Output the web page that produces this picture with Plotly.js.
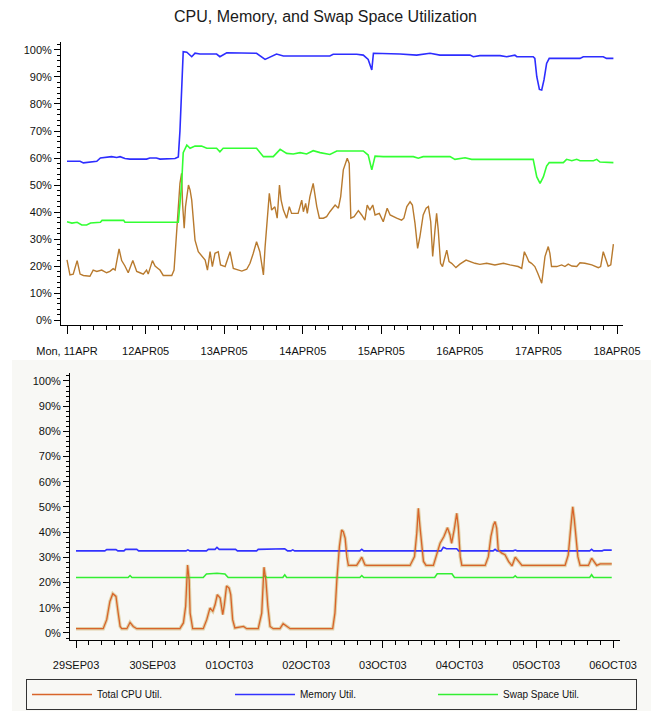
<!DOCTYPE html>
<html><head><meta charset="utf-8">
<script src="https://cdn.plot.ly/plotly-3.0.1.min.js"></script>
<style>html,body{margin:0;padding:0;background:#fff}#chart{width:651px;height:711px}</style>
</head><body><div id="chart"></div>
<script>
// ---------- Top panel (11APR05 - 18APR05), hours since 11APR05 00:00 ----------
const topStart = '2005-04-11';
const topDays = ['2005-04-11','2005-04-12','2005-04-13','2005-04-14','2005-04-15','2005-04-16','2005-04-17','2005-04-18'];
const topDayLabels = ['Mon, 11APR','12APR05','13APR05','14APR05','15APR05','16APR05','17APR05','18APR05'];

const topCpuHours = [0,0.9,1.9,3.1,4.0,5.0,7.0,8.0,9.1,10.6,12.1,13.1,14.1,14.7,15.9,16.7,17.7,18.7,20.1,21.3,22.3,23.3,24.3,24.8,26.1,26.9,27.9,28.4,29.4,32.0,32.7,33.3,33.8,34.5,35.0,35.3,35.8,36.2,37.1,37.6,38.1,39.1,40.1,41.1,42.2,42.9,43.7,44.4,45.2,46.2,46.9,48.3,49.8,50.8,52.0,53.4,54.9,55.9,56.9,57.9,58.9,60.0,60.5,61.0,61.8,62.5,63.5,64.2,64.9,65.4,66.1,67.1,67.9,68.6,70.6,71.7,72.2,72.9,73.4,74.2,75.2,76.3,77.1,78.3,79.3,80.3,81.9,82.9,83.6,84.4,85.6,86.2,86.7,87.7,89.0,90.0,91.0,91.7,92.5,93.4,94.1,95.4,96.6,97.8,98.7,100.7,102.2,102.9,103.8,104.8,105.5,106.3,107.1,107.8,108.8,109.7,110.4,111.1,111.7,112.4,112.9,113.4,114.1,114.7,115.2,116.0,116.7,117.5,118.8,120.0,121.9,123.1,124.6,126.1,128.2,130.7,133.3,135.3,137.8,138.9,139.7,140.4,141.1,141.9,142.9,143.8,144.5,145.0,145.5,146.0,147.0,147.5,148.0,149.6,151.1,152.1,153.1,154.2,155.7,156.7,158.2,160.3,162.3,163.0,163.8,164.6,165.3,166.1,166.9];
const topCpuPct = [22.3,16.7,17,22,17,16.5,16.2,18.5,18,18.5,17.5,18,19,18.5,26.3,22,20,17.5,22,18,17.5,17,18.5,17,22,20,19,18.5,16.5,16.5,18.5,29.6,40.7,50.6,54.3,43,34,42,50,48.1,44.4,29.6,25.3,24,22.2,18.5,25.3,19.8,24.7,25.3,20.4,19.8,25.3,19.1,18.5,18.1,18.8,21,24.7,29,25.3,16.7,27,34.6,46.9,40.7,41.9,37.7,50,44.4,40.7,37.7,42,39.5,39.5,44.4,40.1,43.2,39.5,45.7,50.6,42,37.7,37.7,38.3,40.1,42.6,41.4,45.7,55.6,59.9,58,37.7,38.3,40.5,38.9,37,42.6,40.7,42.6,38.9,39.5,36.4,41.4,38.9,37.7,37,37.7,42,43.8,42.6,35.8,26.5,30.9,38.9,41.4,42,36.4,23.5,33.3,39.5,33.3,21,19.8,22.2,25.9,21.6,21,19.4,20.7,22.2,21.6,21,20.6,21,20.4,21,20.4,19.8,19.1,25.3,23.5,21.6,21,19.8,17.3,14.8,13.6,18.5,23.5,27.2,24.7,19.8,19.8,20.4,19.8,20.7,20,19.8,21.2,21,20.4,19.4,19.8,25.3,22.2,19.9,20.4,28.1];

const topMemHours = [0,4.0,5.0,6.5,9.1,10.2,12.1,13.6,15.2,16.2,17.7,19.2,24.3,25.3,27.3,28.4,33.0,34.0,34.5,35.0,35.5,36.6,38.1,39.1,40.6,45.7,46.7,48.8,57.9,60.5,62.0,64.0,66.1,80.3,81.3,88.5,90.5,92.0,93.1,93.6,101.7,106.8,110.9,113.9,123.1,124.1,126.1,132.3,134.3,136.8,137.4,142.4,142.9,143.5,144.3,145.0,145.7,146.5,147.3,156.7,157.7,163.8,164.8,166.9];
const topMemPct = [58.8,58.8,58.2,58.5,58.8,60.0,60.2,60.5,60.2,60.5,59.8,59.6,59.6,60.0,60.0,59.6,59.8,60.4,70,88,99.4,99.2,97.5,98.8,98.5,98.5,97.5,99,98.8,96.5,97.3,98.5,97.8,97.8,98.4,98.4,98.1,96.5,92.6,98.8,98.5,98.1,98.8,98.1,98.1,97.5,97.9,97.9,97.5,98.1,97.5,97.5,96.9,90.1,85.4,85.2,88.9,95,96.9,96.9,97.5,97.5,96.9,96.9];

const topSwapHours = [0,1.5,3.1,4.5,6.0,7.2,10.2,10.7,17.3,17.7,34.0,35.0,35.5,36.6,37.6,39.1,41.1,42.7,45.7,46.7,47.7,57.9,60.0,63.0,65.1,67.1,69.1,71.2,73.2,75.2,77.3,80.3,82.4,90.5,92.0,93.1,94.1,96.6,105.8,107.3,108.8,117.0,118.5,121.6,123.6,142.4,143.5,144.5,145.5,146.5,147.3,151.6,152.6,154.2,155.7,156.7,160.8,161.8,162.8,166.9];
const topSwapPct = [36.4,35.9,36.2,35.2,35.2,35.9,36.2,36.9,36.9,36.2,36.2,50,62,64.8,63.6,64.4,64.4,63.6,63.6,62.3,63.6,63.6,60.5,60.5,63.2,61.7,61.5,62,61.5,62.7,62,61.3,62.6,62.6,61.1,55.6,60.7,60.5,60.5,59.9,60.5,60.5,59.5,60.1,59.5,59.5,53,50.6,53,57,58.3,58.3,59.5,59,59.5,59,59,59.5,58.5,58.3];

// ---------- Bottom panel (29SEP03 - 06OCT03), hours since 29SEP03 00:00 ----------
const botStart = '2003-09-29';
const botDays = ['2003-09-29','2003-09-30','2003-10-01','2003-10-02','2003-10-03','2003-10-04','2003-10-05','2003-10-06'];
const botDayLabels = ['29SEP03','30SEP03','01OCT03','02OCT03','03OCT03','04OCT03','05OCT03','06OCT03'];

const botCpuHours = [0,8.5,9.6,10.6,11.5,12.5,13.2,13.8,14.3,15.9,16.9,17.9,19.0,32.5,33.6,34.3,34.9,35.4,35.7,36.5,39.8,40.9,41.9,42.8,43.5,44.2,45.1,45.9,46.4,47.1,47.9,48.4,49.0,49.7,52.4,53.4,57.0,58.1,58.8,59.4,60.0,60.7,61.7,63.8,64.8,65.9,67.0,80.3,81.0,81.6,82.4,83.1,83.6,84.2,84.7,85.2,87.8,88.9,89.4,90.4,91.0,104.5,105.9,106.6,107.1,107.6,108.2,108.7,109.5,111.8,112.8,113.9,115.1,116.2,117.0,117.5,118.3,119.1,119.6,120.2,120.7,128.0,129.0,129.8,130.6,131.1,131.6,132.1,133.2,134.2,135.3,136.4,137.4,138.4,139.5,153.0,154.0,154.8,155.4,155.9,156.4,157.0,157.7,160.3,161.3,162.0,162.9,164.0,167.6];
const botCpuPct = [1.7,1.7,5.3,12.5,15.6,14.5,7.9,2.6,1.7,1.7,4.2,2.6,1.7,1.7,4,10.6,27,21,7.9,1.7,1.7,5.3,9.9,8.6,11.2,15.2,13.9,7.3,11.2,18.7,17.8,15.2,5.3,2,2.6,1.7,1.7,7.9,26.1,21,10.6,2.6,1.7,1.7,3.7,2.6,1.7,1.7,7.9,21,34.3,40.9,40.2,37.6,30.3,26.8,26.8,29,30.1,27,26.8,26.8,30.3,39.6,49.5,42.2,34.3,28.4,26.8,26.8,31,35.6,38.3,41.8,38.9,35.6,40.9,47.5,42.2,30.3,26.8,26.8,30.3,38.3,42.9,44.2,41.6,33,31.7,31.1,28.4,26.6,30.1,28.4,26.8,26.8,31,42.2,50.1,44.9,36.9,30.3,26.8,26.8,29.7,28.4,26.8,27.4,27.4];

const botMemHours = [0,9.0,9.6,12.5,13.1,15.0,15.5,19.0,19.6,34.4,35.0,35.6,40.8,41.4,43.5,44.1,44.8,49.9,50.5,56.5,57.0,63.8,65.3,66.2,67.2,67.8,68.4,88.8,89.4,90.0,114.2,114.9,115.9,119.1,119.7,130.5,131.1,131.7,136.8,137.4,138.0,160.7,161.3,161.9,164.6,165.2,167.6];
const botMemPct = [32.6,32.6,33.1,33.1,32.6,32.6,33.2,33.2,32.6,32.6,33.0,32.6,32.6,33.2,33.2,34.0,33.2,33.2,32.6,32.6,33.2,33.2,33.4,32.6,32.6,33.0,32.6,32.6,33.2,32.6,32.6,34.0,33.4,33.4,32.6,32.6,33.2,32.6,32.6,32.9,32.6,32.6,33.2,32.6,32.6,32.9,32.9];

const botSwapHours = [0,16.3,16.9,17.5,39.8,40.8,44.1,46.6,47.6,58.5,59.1,59.7,64.7,65.3,65.9,88.8,89.4,90.0,112.2,113.0,117.6,118.4,136.8,137.4,138.0,160.7,161.3,161.9,167.6];
const botSwapPct = [22,22,22.8,22,22,23.4,23.7,23.4,22,22,22.7,22,22,23.1,22,22,22.8,22,22,23.5,23.5,22,22,22.7,22,22,23.1,22,22];

const pctTicks = [0,10,20,30,40,50,60,70,80,90,100];
const pctLabels = ['0%','10%','20%','30%','40%','50%','60%','70%','80%','90%','100%'];
const seriesNames = ['Total CPU Util.','Memory Util.','Swap Space Util.'];

function toDates(base, hours) {
  const t0 = Date.parse(base + 'T00:00:00Z');
  return hours.map(h => new Date(t0 + h * 3600000).toISOString().slice(0, 19).replace('T', ' '));
}

const W = 651, H = 711;
const px = v => v / W, py = v => (H - v) / H;

const traces = [
  {x: toDates(topStart, topCpuHours), y: topCpuPct, xaxis: 'x', yaxis: 'y', mode: 'lines', line: {color: '#b87a2e', width: 1.4}, showlegend: false, hoverinfo: 'skip'},
  {x: toDates(topStart, topMemHours), y: topMemPct, xaxis: 'x', yaxis: 'y', mode: 'lines', line: {color: '#2d2dff', width: 1.6}, showlegend: false, hoverinfo: 'skip'},
  {x: toDates(topStart, topSwapHours), y: topSwapPct, xaxis: 'x', yaxis: 'y', mode: 'lines', line: {color: '#33ff33', width: 1.6}, showlegend: false, hoverinfo: 'skip'},
  {x: toDates(botStart, botCpuHours), y: botCpuPct, xaxis: 'x2', yaxis: 'y2', mode: 'lines', line: {color: 'rgba(210,185,120,0.6)', width: 3.4}, showlegend: false, hoverinfo: 'skip'},
  {x: toDates(botStart, botMemHours), y: botMemPct, xaxis: 'x2', yaxis: 'y2', mode: 'lines', name: seriesNames[1], line: {color: '#3232ff', width: 1.6}, legendrank: 2},
  {x: toDates(botStart, botSwapHours), y: botSwapPct, xaxis: 'x2', yaxis: 'y2', mode: 'lines', name: seriesNames[2], line: {color: '#33ee33', width: 1.6}, legendrank: 3},
  {x: toDates(botStart, botCpuHours), y: botCpuPct, xaxis: 'x2', yaxis: 'y2', mode: 'lines', name: seriesNames[0], line: {color: '#d8642a', width: 1.3}, legendrank: 1}
];

const axisCommon = {
  showline: true, linecolor: '#000', linewidth: 1, mirror: false,
  showgrid: false, zeroline: false, ticks: 'outside', tickcolor: '#000', tickwidth: 1,
  tickfont: {family: 'Liberation Sans, Arial, sans-serif', size: 11, color: '#111'}
};

const layout = {
  width: W, height: H,
  margin: {l: 0, r: 0, t: 0, b: 0, autoexpand: false},
  paper_bgcolor: '#ffffff', plot_bgcolor: 'rgba(0,0,0,0)',
  font: {family: 'Liberation Sans, Arial, sans-serif', size: 11, color: '#111'},
  title: {text: 'CPU, Memory, and Swap Space Utilization', x: 0.5, xanchor: 'center', xref: 'paper', y: 1 - 16 / H, yref: 'container', yanchor: 'middle', font: {size: 16, color: '#1a1a1a'}},
  showlegend: true,
  legend: {orientation: 'h', x: px(26), xanchor: 'left', y: py(679), yanchor: 'top', bordercolor: '#333', borderwidth: 1, bgcolor: 'rgba(0,0,0,0)', entrywidth: 128, entrywidthmode: 'pixels', itemwidth: 60, font: {size: 10}, traceorder: 'normal'},
  shapes: [{type: 'rect', xref: 'paper', yref: 'paper', x0: px(12), x1: 1, y0: 0, y1: py(360), fillcolor: '#f8f8f5', line: {width: 0}, layer: 'below'}],
  xaxis: Object.assign({}, axisCommon, {
    domain: [px(61), px(623)], anchor: 'y', type: 'date',
    range: ['2005-04-10 22:10', '2005-04-18 01:50'],
    tickmode: 'array', tickvals: topDays, ticktext: topDayLabels, ticklen: 8, ticklabelstandoff: 8,
    minor: {tickmode: 'linear', tick0: '2005-04-11', dtick: 14400000, ticks: 'outside', ticklen: 4, tickcolor: '#000', showgrid: false}
  }),
  yaxis: Object.assign({}, axisCommon, {
    domain: [py(325), py(42)], anchor: 'x',
    range: [-1.85, 102.96],
    tickmode: 'array', tickvals: pctTicks, ticktext: pctLabels, ticklen: 6,
    minor: {tickmode: 'linear', tick0: 0, dtick: 2, ticks: 'outside', ticklen: 3, tickcolor: '#000', showgrid: false}
  }),
  xaxis2: Object.assign({}, axisCommon, {
    domain: [px(70), px(620)], anchor: 'y2', type: 'date',
    range: ['2003-09-28 22:07', '2003-10-06 02:11'],
    tickmode: 'array', tickvals: botDays, ticktext: botDayLabels, ticklen: 7, ticklabelstandoff: 8,
    minor: {tickmode: 'linear', tick0: '2003-09-29', dtick: 14400000, ticks: 'outside', ticklen: 4, tickcolor: '#000', showgrid: false}
  }),
  yaxis2: Object.assign({}, axisCommon, {
    domain: [py(640), py(373)], anchor: 'x2',
    range: [-2.78, 103.17],
    tickmode: 'array', tickvals: pctTicks, ticktext: pctLabels, ticklen: 6,
    minor: {tickmode: 'linear', tick0: 0, dtick: 2, ticks: 'outside', ticklen: 3, tickcolor: '#000', showgrid: false}
  })
};

Plotly.newPlot('chart', traces, layout, {displayModeBar: false, staticPlot: true});
</script>
</body></html>
